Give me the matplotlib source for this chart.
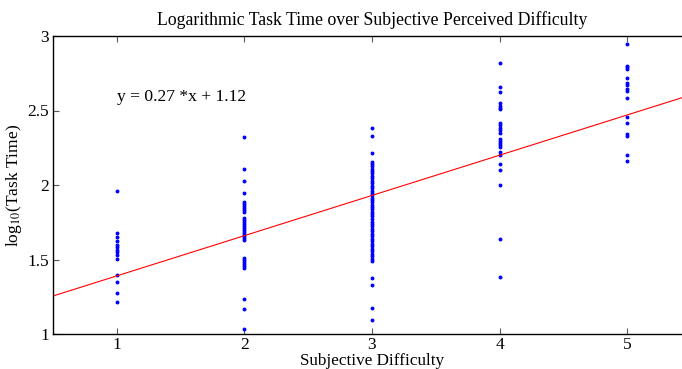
import matplotlib
matplotlib.use('Agg')
import matplotlib.pyplot as plt
import numpy as np

# Perceived difficulty ratings and log10 task times.
diff_1 = [1.962, 1.679, 1.652, 1.621, 1.599, 1.581, 1.565, 1.548, 1.529, 1.502,
          1.395, 1.350, 1.274, 1.218]
diff_2 = [2.325, 2.108, 2.027, 1.944, 1.886, 1.872, 1.859, 1.846, 1.832, 1.819,
          1.778, 1.765, 1.751, 1.738, 1.724, 1.711, 1.697, 1.684, 1.671, 1.657,
          1.644, 1.632, 1.509, 1.496, 1.482, 1.469, 1.455, 1.442, 1.233, 1.166,
          1.036]
diff_3 = [2.381, 2.328, 2.213, 2.157, 2.140, 2.125, 2.110, 2.095, 2.080, 2.062,
          2.045, 2.030, 2.012, 1.995, 1.978, 1.962, 1.945, 1.930, 1.915, 1.900,
          1.885, 1.868, 1.852, 1.838, 1.820, 1.805, 1.790, 1.772, 1.755, 1.740,
          1.722, 1.705, 1.690, 1.672, 1.655, 1.640, 1.622, 1.605, 1.590, 1.572,
          1.555, 1.540, 1.522, 1.505, 1.491, 1.379, 1.328, 1.175, 1.092]
diff_4 = [2.822, 2.661, 2.621, 2.547, 2.533, 2.520, 2.507, 2.419, 2.402, 2.384,
          2.366, 2.348, 2.311, 2.298, 2.284, 2.267, 2.258, 2.220, 2.204, 2.141,
          2.099, 1.998, 1.635, 1.383]
diff_5 = [2.946, 2.802, 2.791, 2.780, 2.719, 2.686, 2.668, 2.641, 2.630, 2.586,
          2.458, 2.419, 2.341, 2.327, 2.204, 2.161]

fit_coef = [0.27, 1.12]

columns = [diff_1, diff_2, diff_3, diff_4, diff_5]
x_vals = np.concatenate([np.full(len(c), i + 1) for i, c in enumerate(columns)])
y_vals = np.concatenate(columns)

plt.rcParams['font.family'] = 'Liberation Serif'
plt.rcParams['mathtext.fontset'] = 'stix'

fig = plt.figure(figsize=(6.82, 3.69), dpi=100)
ax = fig.add_axes([53 / 682, 35 / 369, 638 / 682, 298 / 369])

ax.plot(x_vals, y_vals, 'o', color='blue', markersize=2.8, markeredgewidth=0)

# Regression line across the whole x range.
x_line = np.array([0.5, 5.5])
ax.plot(x_line, np.polyval(fit_coef, x_line), color='red', linewidth=0.8)

ax.text(1.0, 2.59, 'y = 0.27 *x + 1.12', fontsize=12.6, va='center', ha='left')

ax.set_xlim(0.5, 5.5)
ax.set_ylim(1, 3)
ax.set_xticks([1, 2, 3, 4, 5])
ax.set_yticks([1, 1.5, 2, 2.5, 3])
ax.set_yticklabels(['1', '1.5', '2', '2.5', '3'])
ax.tick_params(direction='in', length=4, width=0.8, color='0.35',
               top=True, right=True, labelsize=12.5, pad=3)
ax.tick_params(axis='x', pad=2.5)

for side in ax.spines:
    ax.spines[side].set_linewidth(1.0)

ax.set_title('Logarithmic Task Time over Subjective Perceived Difficulty',
             fontsize=12.8, pad=8)
ax.set_xlabel('Subjective Difficulty', fontsize=12.3, labelpad=0)
ax.set_ylabel('log$_{10}$(Task Time)', fontsize=12.5, labelpad=2)

plt.savefig('out.png', dpi=100)
plt.close(fig)
